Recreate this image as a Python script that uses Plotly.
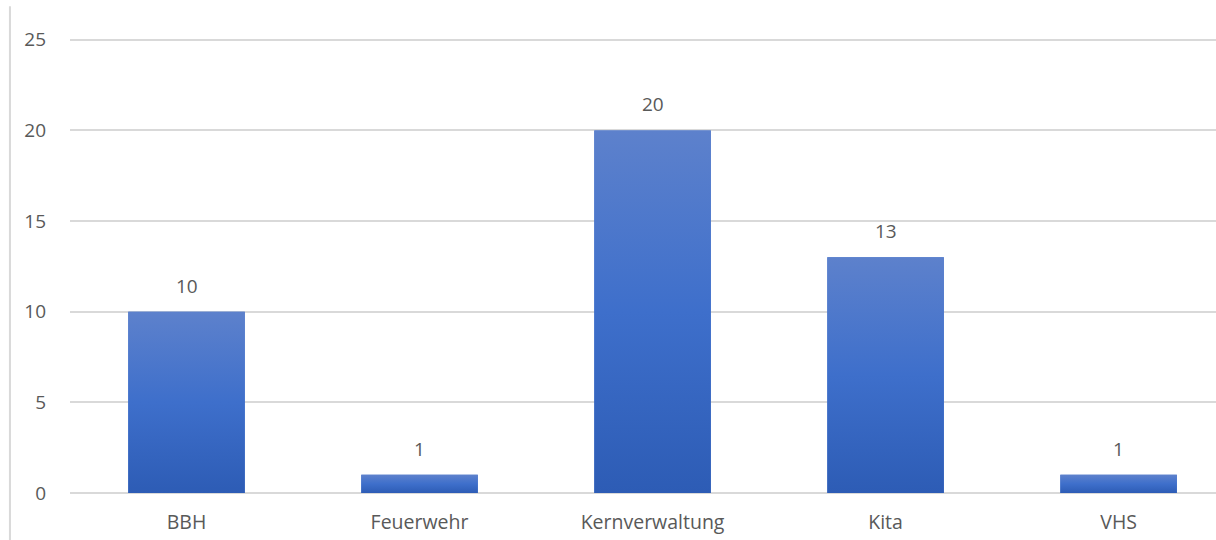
import plotly.graph_objects as go

# Anzahl je Bereich
categories = ["BBH", "Feuerwehr", "Kernverwaltung", "Kita", "VHS"]
values = [10, 1, 20, 13, 1]
y_ticks = [0, 5, 10, 15, 20, 25]

bar_width = 0.5
grey_text = "#595959"
grid_col = "#d9d9d9"
font_family = "'Open Sans', sans-serif"
gradient = [[0.0, "#2d5cb5"], [0.5, "#3e6fcb"], [1.0, "#5d81cc"]]

fig = go.Figure()

# Base bars (data-driven position and height)
fig.add_trace(go.Bar(
    x=list(range(len(categories))),
    y=values,
    width=bar_width,
    marker=dict(color="#3e6fcb", line=dict(width=0)),
    hoverinfo="skip",
    showlegend=False,
))

# Vertical gradient fill on each bar, built from the same values
for i, v in enumerate(values):
    x0, x1 = i - bar_width / 2, i + bar_width / 2
    fig.add_trace(go.Scatter(
        x=[x0, x1, x1, x0, x0],
        y=[0, 0, v, v, 0],
        mode="lines",
        line=dict(width=0),
        fill="toself",
        fillgradient=dict(type="vertical", colorscale=gradient),
        hoverinfo="skip",
        showlegend=False,
    ))

# Value labels above bars
for i, v in enumerate(values):
    fig.add_annotation(
        x=i, y=v, text=str(v), showarrow=False,
        yanchor="bottom", yshift=11,
        font=dict(size=19, color=grey_text, family=font_family),
    )

# Left frame line of the chart area
fig.add_shape(
    type="line", xref="paper", yref="paper",
    x0=-0.0524, x1=-0.0524, y0=1.07, y1=-0.11,
    line=dict(color=grid_col, width=2),
)

fig.update_layout(
    width=1216, height=540,
    margin=dict(l=70, r=0, t=38, b=47),
    paper_bgcolor="white", plot_bgcolor="white",
    font=dict(family=font_family, color=grey_text, size=19),
    bargap=0.5,
    xaxis=dict(
        range=[-0.5, 4.418],
        tickmode="array",
        tickvals=list(range(len(categories))),
        ticktext=categories,
        showgrid=False, zeroline=False, showline=False,
        ticks="", ticklabelstandoff=15,
        tickfont=dict(size=19.5, color=grey_text),
        fixedrange=True,
    ),
    yaxis=dict(
        range=[0, 25.1],
        tickmode="array",
        tickvals=y_ticks,
        showgrid=True, gridcolor=grid_col, gridwidth=1.5,
        zeroline=True, zerolinecolor=grid_col, zerolinewidth=1.5,
        showline=False, ticks="", ticklabelstandoff=23,
        tickfont=dict(size=19, color=grey_text),
        fixedrange=True,
    ),
)

fig.write_html("out.html")
